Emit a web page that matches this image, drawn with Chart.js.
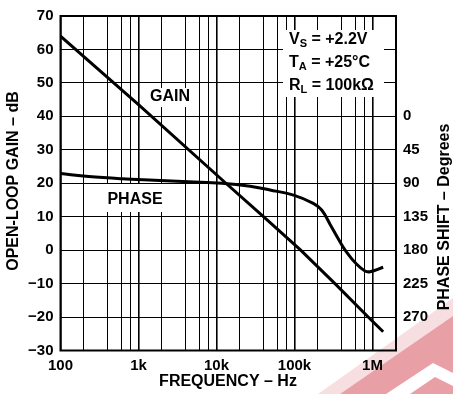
<!DOCTYPE html>
<html>
<head>
<meta charset="utf-8">
<script src="https://cdn.jsdelivr.net/npm/chart.js@4.4.1/dist/chart.umd.min.js"></script>
<style>
  html, body { margin: 0; padding: 0; background: #fff; }
  #wrap { width: 453px; height: 394px; }
</style>
</head>
<body>
<div id="wrap"><canvas id="gainPhase" width="453" height="394"></canvas></div>
<script>
// open-loop gain (dB) vs frequency (Hz)
const gainFreq = [100, 1e3, 13.2e3, 40e3, 120e3, 330e3, 880e3, 1.37e6];
const gainDb = [64, 43.5, 20, 10, 0, -10, -20, -24.4];

// phase shift (degrees) vs frequency (Hz)
const phaseFreq = [100, 230, 610, 1.6e3, 4.4e3, 11.7e3, 27e3, 48.5e3, 97e3, 174e3, 223e3, 285e3, 365e3, 467e3, 627e3, 800e3, 930e3, 1.37e6];
const phaseDeg = [77, 81, 84, 86, 88, 90, 94, 99, 106, 117, 126, 145, 165, 183, 199, 208, 209, 203];

// grid lines and tick labels
const freqGrid = [100, 200, 400, 600, 800, 1e3, 2e3, 4e3, 6e3, 8e3, 1e4, 2e4, 4e4, 6e4, 8e4, 1e5, 2e5, 4e5, 6e5, 8e5, 1e6, 2e6];
const freqLabels = {100: '100', 1000: '1k', 10000: '10k', 100000: '100k', 1000000: '1M'};
const phaseTicks = [0, 45, 90, 135, 180, 225, 270];

const FONT = '"Liberation Sans", Arial, Helvetica, sans-serif';

const isDecade = v => Math.abs(Math.log10(v) - Math.round(Math.log10(v))) < 1e-9;

const toPoints = (xs, ys) => xs.map((x, i) => ({x, y: ys[i]}));

// white label boxes sitting on top of the grid, plus the frame
const labelsPlugin = {
    id: 'labels',
    beforeDatasetsDraw(chart) {
        const {ctx, chartArea: a} = chart;
        ctx.save();
        ctx.fillStyle = '#fff';
        ctx.fillRect(283, 30, 101, 67);
        ctx.fillRect(147, 88, 46, 19);
        ctx.fillRect(96, 184, 74, 28);

        ctx.strokeStyle = '#000';
        ctx.lineWidth = 2;
        ctx.strokeRect(a.left, a.top, a.right - a.left, a.bottom - a.top);

        ctx.fillStyle = '#000';
        ctx.textBaseline = 'middle';
        ctx.textAlign = 'center';
        ctx.font = 'bold 16px ' + FONT;
        ctx.fillText('GAIN', 170, 97);
        ctx.fillText('PHASE', 135, 200);

        // test conditions, with subscripts
        const cond = [['V', 'S', ' = +2.2V'], ['T', 'A', ' = +25°C'], ['R', 'L', ' = 100kΩ']];
        ctx.textAlign = 'left';
        cond.forEach(([main, sub, rest], i) => {
            const y = 40 + i * 23;
            let x = 289;
            ctx.font = 'bold 16px ' + FONT;
            ctx.fillText(main, x, y);
            x += ctx.measureText(main).width;
            ctx.font = 'bold 11px ' + FONT;
            ctx.fillText(sub, x, y + 4);
            x += ctx.measureText(sub).width;
            ctx.font = 'bold 16px ' + FONT;
            ctx.fillText(rest, x, y);
        });
        ctx.restore();
    },
    afterDraw(chart) {
        const {ctx} = chart;
        ctx.save();
        ctx.fillStyle = '#000';
        ctx.font = 'bold 16px ' + FONT;
        ctx.textAlign = 'center';
        ctx.textBaseline = 'middle';
        ctx.fillText('FREQUENCY – Hz', 228, 382);

        ctx.translate(14, 181);
        ctx.rotate(-Math.PI / 2);
        ctx.fillText('OPEN-LOOP GAIN – dB', 0, 0);
        ctx.restore();

        ctx.save();
        ctx.fillStyle = '#000';
        ctx.font = 'bold 16px ' + FONT;
        ctx.textAlign = 'center';
        ctx.textBaseline = 'middle';
        ctx.translate(445, 217);
        ctx.rotate(-Math.PI / 2);
        ctx.fillText('PHASE SHIFT – Degrees', 0, 0);
        ctx.restore();

        // pink stamp in the lower right corner
        ctx.save();
        ctx.globalCompositeOperation = 'multiply';
        ctx.fillStyle = 'rgba(232,164,170,0.35)';
        ctx.beginPath();
        ctx.moveTo(318, 394); ctx.lineTo(453, 298); ctx.lineTo(453, 316); ctx.lineTo(340, 394);
        ctx.closePath(); ctx.fill();
        ctx.fillStyle = 'rgb(232,160,166)';
        ctx.beginPath();
        ctx.moveTo(340, 394); ctx.lineTo(453, 316); ctx.lineTo(453, 394);
        ctx.closePath(); ctx.fill();
        ctx.globalCompositeOperation = 'source-over';
        ctx.fillStyle = '#fff';
        ctx.beginPath();
        ctx.moveTo(386, 394); ctx.lineTo(433, 363); ctx.lineTo(453, 373); ctx.lineTo(453, 386);
        ctx.lineTo(435, 377); ctx.lineTo(410, 394);
        ctx.closePath(); ctx.fill();
        ctx.restore();
    }
};

new Chart(document.getElementById('gainPhase'), {
    type: 'line',
    data: {
        datasets: [{
            label: 'GAIN',
            data: toPoints(gainFreq, gainDb),
            borderColor: '#000',
            borderWidth: 3,
            pointRadius: 0,
            tension: 0,
            yAxisID: 'y',
        }, {
            label: 'PHASE',
            data: toPoints(phaseFreq, phaseDeg),
            borderColor: '#000',
            borderWidth: 3,
            pointRadius: 0,
            tension: 0.4,
            yAxisID: 'y2',
        }],
    },
    options: {
        responsive: false,
        animation: false,
        layout: {padding: {top: 13, left: 0, right: 0, bottom: 0}},
        plugins: {legend: {display: false}, tooltip: {enabled: false}},
        scales: {
            x: {
                type: 'logarithmic',
                min: 100,
                max: 2e6,
                afterBuildTicks: scale => { scale.ticks = freqGrid.map(v => ({value: v})); },
                afterFit: scale => { scale.height = 43.5; },
                grid: {
                    color: '#000',
                    lineWidth: c => (c.tick && isDecade(c.tick.value)) ? 1.6 : 1,
                    drawTicks: false,
                },
                border: {display: false},
                ticks: {
                    autoSkip: false,
                    maxRotation: 0,
                    padding: 6,
                    color: '#000',
                    font: {family: FONT, size: 15, weight: 'bold'},
                    callback: v => freqLabels[v] || '',
                },
            },
            y: {
                position: 'left',
                min: -30,
                max: 70,
                afterFit: scale => { scale.width = 60.5; },
                grid: {color: '#000', lineWidth: 1, drawTicks: false},
                border: {display: false},
                ticks: {
                    stepSize: 10,
                    padding: 7,
                    color: '#000',
                    font: {family: FONT, size: 15, weight: 'bold'},
                    callback: v => String(v).replace('-', '−'),
                },
            },
            y2: {
                position: 'right',
                min: -135,
                max: 315,
                reverse: true,
                afterBuildTicks: scale => { scale.ticks = phaseTicks.map(v => ({value: v})); },
                afterFit: scale => { scale.width = 57; },
                grid: {display: false, drawTicks: false},
                border: {display: false},
                ticks: {
                    padding: 7,
                    color: '#000',
                    font: {family: FONT, size: 15, weight: 'bold'},
                },
            },
        },
    },
    plugins: [labelsPlugin],
});
</script>
</body>
</html>
